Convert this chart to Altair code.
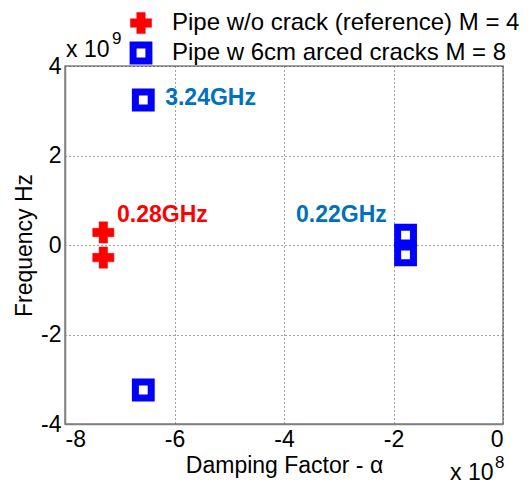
import altair as alt
import pandas as pd

# Data (alpha in units of 1e8, frequency in units of 1e9)
series_names = ["Pipe w/o crack (reference) M = 4", "Pipe w 6cm arced cracks M = 8"]
ref_alpha = [-7.30, -7.30]
ref_freq = [0.28, -0.28]
crack_alpha = [-6.57, -6.57, -1.78, -1.78]
crack_freq = [3.24, -3.24, 0.22, -0.22]

ann_labels = ["0.28GHz", "3.24GHz", "0.22GHz"]
ann_alpha = [-7.05, -6.17, -3.78]
ann_freq = [0.68, 3.28, 0.68]
ann_series = ["ref", "crack", "crack"]

x_ticks = [-8, -6, -4, -2, 0]
y_ticks = [-4, -2, 0, 2, 4]

pts = pd.DataFrame({
    "series": [series_names[0]] * len(ref_alpha) + [series_names[1]] * len(crack_alpha),
    "alpha": ref_alpha + crack_alpha,
    "freq": ref_freq + crack_freq,
})
ann = pd.DataFrame({"label": ann_labels, "alpha": ann_alpha, "freq": ann_freq, "grp": ann_series})

FONT = "Liberation Sans"

xenc = alt.X("alpha:Q", scale=alt.Scale(domain=[-8, 0], nice=False),
             axis=alt.Axis(values=x_ticks, title="Damping Factor - α",
                           labelExpr="'' + datum.value", titlePadding=3))
yenc = alt.Y("freq:Q", scale=alt.Scale(domain=[-4, 4], nice=False),
             axis=alt.Axis(values=y_ticks, title="Frequency Hz",
                           labelExpr="'' + datum.value", titlePadding=4))

points = alt.Chart(pts).mark_point(opacity=1, fillOpacity=1, strokeOpacity=1).encode(
    x=xenc,
    y=yenc,
    shape=alt.Shape("series:N", scale=alt.Scale(domain=series_names, range=["cross", "square"]),
                    legend=alt.Legend(title=None, orient="none", legendX=64, legendY=-55,
                                      labelFontSize=24, labelFont=FONT, labelColor="black",
                                      rowPadding=-4, labelOffset=19, symbolLimit=2,
                                      labelLimit=500)),
    fill=alt.Fill("series:N", scale=alt.Scale(domain=series_names, range=["#ff0000", "#ffffff"])),
    stroke=alt.Stroke("series:N", scale=alt.Scale(domain=series_names, range=["#ff0000", "#0000ff"])),
    strokeWidth=alt.StrokeWidth("series:N", scale=alt.Scale(type="ordinal", domain=series_names, range=[0.5, 7])),
    size=alt.Size("series:N", scale=alt.Scale(type="ordinal", domain=series_names, range=[450, 250])),
)

texts = alt.Chart(ann).mark_text(align="left", baseline="middle", fontWeight="bold",
                                 fontSize=23, font=FONT).encode(
    x="alpha:Q", y="freq:Q", text="label:N",
    color=alt.Color("grp:N", scale=alt.Scale(domain=["ref", "crack"], range=["#ff0000", "#0070c0"]),
                    legend=None),
)

mult = pd.DataFrame({"t": ["x 10"]})
m_y1 = alt.Chart(mult).mark_text(align="left", baseline="middle", fontSize=23, font=FONT, color="black").encode(
    x=alt.value(1), y=alt.value(-16), text="t:N")
m_y2 = alt.Chart(pd.DataFrame({"t": ["9"]})).mark_text(align="left", baseline="middle", fontSize=17, font=FONT, color="black").encode(
    x=alt.value(47), y=alt.value(-27), text="t:N")
m_x1 = alt.Chart(mult).mark_text(align="left", baseline="middle", fontSize=23, font=FONT, color="black").encode(
    x=alt.value(385), y=alt.value(407), text="t:N")
m_x2 = alt.Chart(pd.DataFrame({"t": ["8"]})).mark_text(align="left", baseline="middle", fontSize=17, font=FONT, color="black").encode(
    x=alt.value(430), y=alt.value(397), text="t:N")

chart = alt.layer(points, texts, m_y1, m_y2, m_x1, m_x2).resolve_scale(color="independent").properties(
    width=438, height=358,
    autosize=alt.AutoSizeParams(type="none"),
    padding={"left": 57, "top": 58, "right": 20, "bottom": 62},
    background="white",
).configure_view(stroke="#808080", strokeWidth=1.5).configure_axis(
    labelFont=FONT, titleFont=FONT, labelFontSize=23, titleFontSize=23,
    labelColor="black", titleColor="black", titleFontWeight="normal",
    grid=True, gridColor="#444444", gridDash=[1, 3], gridWidth=1,
    domainColor="#808080", domainWidth=1.5, ticks=False, labelPadding=4,
)

chart.save("out.html", embed_options={"renderer": "svg", "actions": False})
